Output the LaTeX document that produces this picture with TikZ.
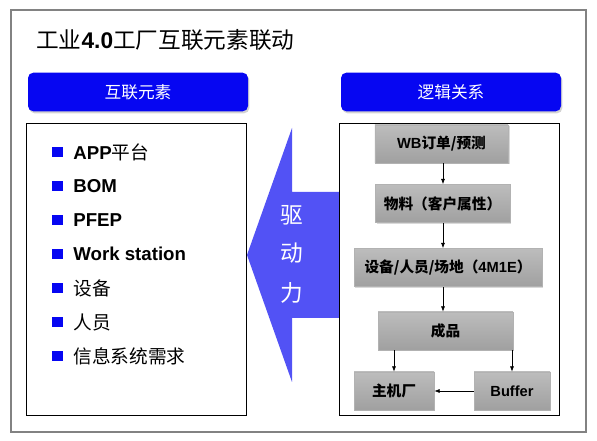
\documentclass[tikz,border=0pt]{standalone}
\usepackage{fontspec}
\setmainfont{Liberation Sans}
\newfontfamily\cjk{Noto Sans CJK SC}
\usetikzlibrary{arrows.meta,positioning,shadows}
\definecolor{hdrblue}{RGB}{6,6,242}
\definecolor{drvblue}{RGB}{82,82,245}
\definecolor{boxgray}{RGB}{160,160,160}
\definecolor{framegray}{RGB}{130,130,130}
\newcommand{\zh}[1]{{\cjk\mdseries #1}}
\newcommand{\zhb}[1]{{\cjk\bfseries #1}}

\begin{document}
\begin{tikzpicture}[x=0.75pt, y=-0.75pt,
  hdr/.style={fill=hdrblue, rounded corners=4pt, minimum width=165pt, minimum height=29pt,
    text=white, font=\fontsize{12.5}{14}\selectfont,
    drop shadow={shadow xshift=1pt, shadow yshift=-1.5pt, opacity=0.35}},
  panel/.style={draw=black, line width=0.6pt, minimum width=165pt, minimum height=219pt},
  gbox/.style={top color=boxgray!70, bottom color=boxgray, draw=gray!60, inner sep=0pt,
    minimum height=28.5pt, font=\bfseries\fontsize{11}{13}\selectfont,
    drop shadow={shadow xshift=1pt, shadow yshift=-1pt, opacity=0.3}},
  bul/.style={fill=hdrblue, minimum size=8pt, inner sep=0pt},
  item/.style={font=\bfseries\fontsize{14}{16}\selectfont, inner sep=0pt},
  drv/.style={text=white, font=\fontsize{17}{19}\selectfont},
  edge/.style={-{Latex[length=4pt,width=3pt]}, line width=0.5pt}]
  \useasboundingbox (0,0) rectangle (597,441);
  % 外框与标题
  \draw[framegray, line width=0.8pt] (11,10) rectangle (586,432);
  \node[anchor=west, inner sep=0pt, font=\fontsize{17}{19}\selectfont] (title) at (36,40)
    {\zh{工业}\textbf{4.0}\zh{工厂互联元素联动}};
  % 栏目标题
  \node[hdr] (hleft) at (138,92) {\zh{互联元素}};
  \node[hdr] (hright) at (451,92) {\zh{逻辑关系}};
  % 驱动力箭头
  \fill[drvblue] (247,255) -- (292,128) -- (292,192) -- (339,192) -- (339,318)
    -- (292,318) -- (292,382) -- cycle;
  \node[drv] (d1) at (292,215) {\zh{驱}};
  \node[drv] (d2) at (292,253) {\zh{动}};
  \node[drv] (d3) at (292,293) {\zh{力}};
  % 左右面板
  \node[panel] (lpanel) at (136,269) {};
  \node[panel] (rpanel) at (449.5,269) {};
  % 互联元素列表
  \foreach \txt [count=\i from 0] in {APP\zh{平台}, BOM, PFEP, Work station,
      \zh{设备}, \zh{人员}, \zh{信息系统需求}} {
    \node[bul] (b\i) at (57.5,{152+34*\i}) {};
    \node[item, right=7.5pt of b\i] (it\i) {\txt};
  }
  % 逻辑关系流程
  \node[gbox, minimum width=100pt] (wb) at (441.5,144) {WB\zhb{订单/预测}};
  \node[gbox, minimum width=101pt] (mat) at (442.5,203.5) {\zhb{物料（客户属性）}};
  \node[gbox, minimum width=141pt] (eq) at (448,267.5) {\zhb{设备/人员/场地（}4M1E\zhb{）}};
  \node[gbox, minimum width=101pt] (fp) at (445.5,331) {\zhb{成品}};
  \node[gbox, minimum width=60pt] (host) at (394,391) {\zhb{主机厂}};
  \node[gbox, minimum width=57pt] (buf) at (512,391) {Buffer};
  % 箭头
  \draw[edge] (wb.south -| 443,0) -- (mat.north -| 443,0);
  \draw[edge] (mat.south -| 443,0) -- (eq.north -| 443,0);
  \draw[edge] (eq.south -| 443,0) -- (fp.north -| 443,0);
  \draw[edge] (fp.south -| host) -- (host);
  \draw[edge] (fp.south -| buf) -- (buf);
  \draw[edge] (buf) -- (host);
\end{tikzpicture}
\end{document}
